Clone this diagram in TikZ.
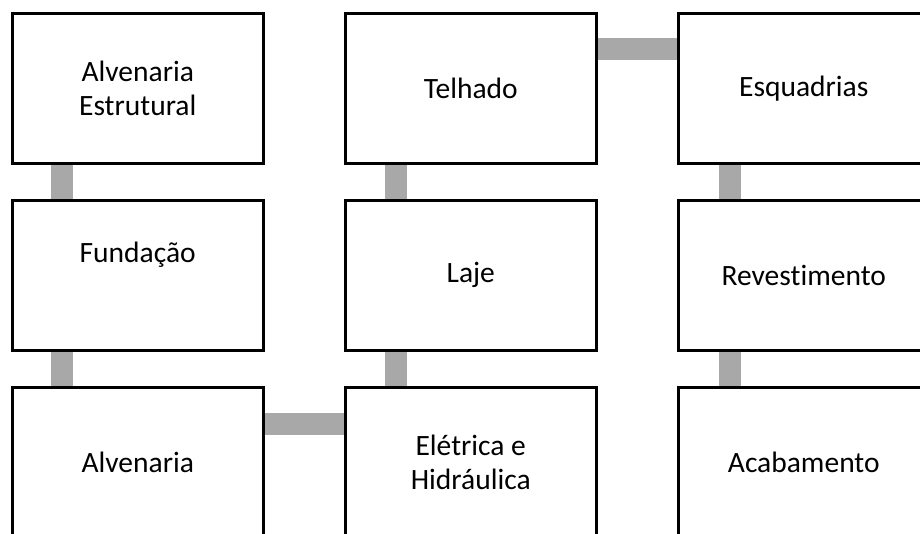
\documentclass[tikz,border=0pt]{standalone}
\usepackage{fontspec}
\setmainfont{Carlito}[Ligatures=NoCommon]
\usepackage{tikz}
\usetikzlibrary{positioning}
\definecolor{linkgray}{RGB}{168,168,168}

\begin{document}
\begin{tikzpicture}[
  x=1pt, y=-1pt,
  node distance=34.5pt and 79.5pt,
  box/.style={
    rectangle, draw, line width=2.5pt,
    minimum width=251pt, minimum height=150pt,
    inner sep=0pt, font=\fontsize{29.5}{34}\selectfont,
    align=center
  },
  link/.style={draw=linkgray, line width=22pt}
]
  \useasboundingbox (0,0) rectangle (920,533);
  \clip (0,0) rectangle (920,533);

  % Step boxes
  \node[box, anchor=north west] (alvest) at (11,12) {Alvenaria\\ Estrutural};
  \node[box, below=of alvest] (fund) {Fundação\\[12pt]\mbox{}};
  \node[box, below=of fund] (alv) {Alvenaria};
  \node[box, right=of alv] (elet) {Elétrica e\\ Hidráulica};
  \node[box, above=of elet] (laje) {Laje};
  \node[box, above=of laje] (telh) {Telhado};
  \node[box, right=of telh] (esq) {Esquadrias};
  \node[box, below=of esq] (rev) {Revestimento};
  \node[box, below=of rev] (acab) {Acabamento};

  % Links
  \draw[link] ([xshift=51pt]alvest.south west) -- ([xshift=51pt]fund.north west);
  \draw[link] ([xshift=51pt]fund.south west) -- ([xshift=51pt]alv.north west);
  \draw[link] ([yshift=-38pt]alv.north east) -- ([yshift=-38pt]elet.north west);
  \draw[link] ([xshift=52pt]elet.north west) -- ([xshift=52pt]laje.south west);
  \draw[link] ([xshift=52pt]laje.north west) -- ([xshift=52pt]telh.south west);
  \draw[link] ([yshift=-37pt]telh.north east) -- ([yshift=-37pt]esq.north west);
  \draw[link] ([xshift=53pt]esq.south west) -- ([xshift=53pt]rev.north west);
  \draw[link] ([xshift=53pt]rev.south west) -- ([xshift=53pt]acab.north west);
\end{tikzpicture}
\end{document}
